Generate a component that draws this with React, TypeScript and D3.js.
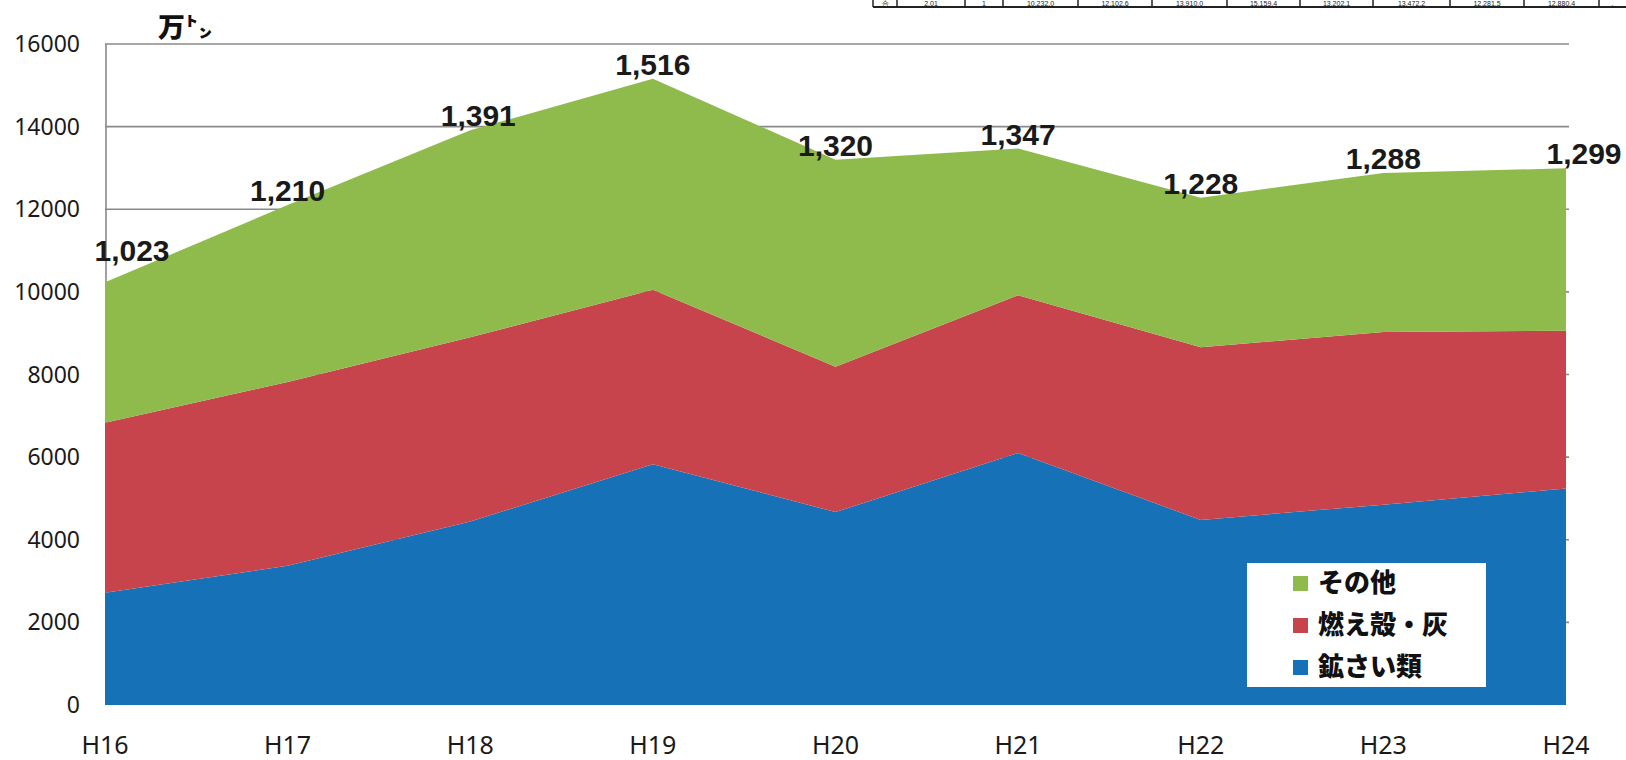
import React from "react";
import * as d3 from "d3";

const years = ["H16", "H17", "H18", "H19", "H20", "H21", "H22", "H23", "H24"];
const slag = [2720, 3370, 4440, 5830, 4670, 6100, 4480, 4850, 5240];
const ash = [4110, 4450, 4460, 4220, 3520, 3820, 4180, 4180, 3820];
const other = [3400, 4280, 5010, 5110, 5010, 3550, 3620, 3850, 3930];
const totals = [10230, 12100, 13910, 15160, 13200, 13470, 12280, 12880, 12990];
const yTicks = [0, 2000, 4000, 6000, 8000, 10000, 12000, 14000, 16000];
const seriesNames = ["鉱さい類", "燃え殻・灰", "その他"];
const seriesColors = ["#1771b6", "#c8444c", "#8fbb4c"];
const legendOrder = [2, 1, 0];
const tableCells = ["合", "2,01", "1", "10,232.0", "12,102.6", "13,910.0", "15,159.4", "13,202.1", "13,472.2", "12,281.5", "12,880.4", "."];
const tableEdges = [873, 897, 965, 1003, 1078, 1152, 1227, 1300, 1373, 1450, 1524, 1599, 1626];

export default function App() {
  const W = 1626, H = 760;
  const x = d3.scalePoint<string>().domain(years).range([105, 1566]);
  const y = d3.scaleLinear().domain([0, 16000]).range([705, 44]);

  const rows = years.map((yr, i) => ({ yr, s0: slag[i], s1: ash[i], s2: other[i] }));
  const stack = d3.stack<any>().keys(["s0", "s1", "s2"]);
  const layers = stack(rows);
  const area = d3
    .area<any>()
    .x((d) => x(d.data.yr) as number)
    .y0((d) => y(d[0]))
    .y1((d) => y(d[1]));

  const fmt = d3.format(",");
  const labelFont = "'Liberation Sans', Arial, sans-serif";
  const cjk = "'Noto Sans CJK JP', sans-serif";

  return (
    <svg width={W} height={H} style={{ position: "absolute", left: 0, top: 0, background: "#fff" }}>
      {/* table fragment at top */}
      <g fontFamily={labelFont} fontSize={7} fill="#222">
        <line x1={tableEdges[0]} x2={W} y1={7} y2={7} stroke="#222" strokeWidth={2} />
        {tableEdges.slice(0, -1).map((e, i) => (
          <line key={"te" + i} x1={e} x2={e} y1={0} y2={7} stroke="#222" strokeWidth={1.5} />
        ))}
        {tableCells.map((t, i) => (
          <text key={"tc" + i} x={(tableEdges[i] + tableEdges[i + 1]) / 2} y={5.5} textAnchor="middle">
            {t}
          </text>
        ))}
      </g>

      {/* gridlines */}
      {yTicks.filter((t) => t > 0).map((t) => (
        <line key={t} x1={105} x2={1569} y1={y(t)} y2={y(t)} stroke="#8a8a8a" strokeWidth={1.6} />
      ))}
      {/* y axis line */}
      <line x1={106} x2={106} y1={y(16000)} y2={y(0)} stroke="#8a8a8a" strokeWidth={1.6} />

      {/* areas */}
      {layers.map((l, i) => (
        <path key={i} d={area(l) as string} fill={seriesColors[i]} />
      ))}

      {/* y tick labels */}
      <g fontFamily="'Noto Sans', sans-serif" fontSize={23} fill="#1a1a1a">
        {yTicks.map((t) => (
          <text key={t} x={80} y={y(t)} dy="0.35em" textAnchor="end">
            {t}
          </text>
        ))}
      </g>

      {/* x labels */}
      <g fontFamily="'Noto Sans', sans-serif" fontSize={25} fill="#1a1a1a">
        {years.map((yr) => (
          <text key={yr} x={x(yr) as number} y={754} textAnchor="middle">
            {yr}
          </text>
        ))}
      </g>

      {/* unit */}
      <text x={158} y={37} fontFamily={cjk} fontWeight={900} fontSize={27} fill="#111">
        万㌧
      </text>

      {/* total labels */}
      <g fontFamily={labelFont} fontWeight="bold" fontSize={30} fill="#1a1a1a">
        {years.map((yr, i) => {
          const dx = i === 0 ? 27 : i === years.length - 1 ? 18 : i === 2 ? 8 : 0;
          const dy = i === 0 ? -21 : -4;
          return (
            <text key={yr} x={(x(yr) as number) + dx} y={y(totals[i]) + dy} textAnchor="middle">
              {fmt(Math.round(totals[i] / 10))}
            </text>
          );
        })}
      </g>

      {/* legend */}
      <rect x={1247} y={563} width={239} height={124} fill="#fff" />
      <g fontFamily={cjk} fontWeight={900} fontSize={26} fill="#111">
        {legendOrder.map((si, k) => (
          <g key={si} transform={`translate(1293, ${583 + k * 42})`}>
            <rect x={0} y={-7} width={15} height={15} fill={seriesColors[si]} />
            <text x={25} y={0} dy="0.36em">
              {seriesNames[si]}
            </text>
          </g>
        ))}
      </g>
    </svg>
  );
}
